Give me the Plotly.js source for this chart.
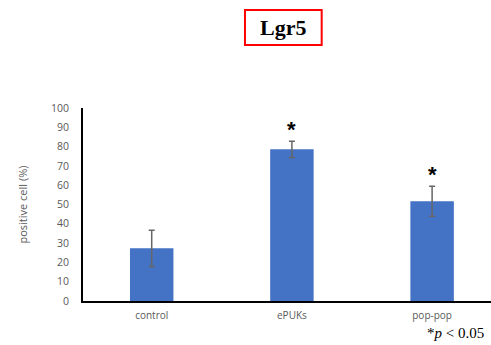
<!DOCTYPE html>
<html>
<head>
<meta charset="utf-8">
<script src="https://cdn.plot.ly/plotly-3.0.1.min.js"></script>
<style>html,body{margin:0;padding:0;background:#fff;}#chart{width:491px;height:345px;}</style>
</head>
<body>
<div id="chart"></div>
<script>
var categories = ["control", "ePUKs", "pop-pop"];
var values = [27.3, 78.6, 51.7];
var errors = [9.4, 4.2, 7.8];
var significant = [false, true, true];
var yTicks = [0, 10, 20, 30, 40, 50, 60, 70, 80, 90, 100];

var trace = {
  type: "bar",
  x: categories,
  y: values,
  width: 0.31,
  marker: {color: "#4472C4", line: {width: 0}},
  error_y: {type: "data", array: errors, visible: true, color: "#666666", thickness: 1.5, width: 3},
  hoverinfo: "none"
};

var annotations = [];
categories.forEach(function (c, i) {
  if (significant[i]) {
    annotations.push({
      x: c, y: values[i] + errors[i], xref: "x", yref: "y",
      text: "<b>*</b>", showarrow: false, yanchor: "bottom", yshift: -3,
      font: {family: "Liberation Sans, Arial, sans-serif", size: 22, color: "#000"}
    });
  }
});
annotations.push({
  xref: "paper", yref: "paper", x: 0.49, y: 1.417,
  text: "<b>Lgr5</b>", showarrow: false, xanchor: "center", yanchor: "middle",
  font: {family: "Liberation Serif, Times New Roman, serif", size: 22, color: "#000"}
});
annotations.push({
  xref: "paper", yref: "paper", x: 0.987, y: -0.165,
  text: "*<i>p</i> < 0.05", showarrow: false, xanchor: "right", yanchor: "middle",
  font: {family: "Liberation Serif, Times New Roman, serif", size: 15, color: "#000"}
});

var layout = {
  width: 491, height: 345,
  margin: {l: 83, r: 0, t: 108, b: 44},
  paper_bgcolor: "#fff", plot_bgcolor: "#fff",
  showlegend: false,
  xaxis: {
    range: [-0.49, 2.42], showline: true, linecolor: "#000", linewidth: 2,
    ticks: "", showgrid: false, zeroline: false, ticklabelstandoff: 4,
    tickfont: {family: "Open Sans, Liberation Sans, sans-serif", size: 10, color: "#595959"},
    fixedrange: true
  },
  yaxis: {
    range: [0, 100], tickvals: yTicks, showline: true, linecolor: "#000", linewidth: 2,
    ticks: "", showgrid: false, zeroline: false, ticklabelstandoff: 10,
    tickfont: {family: "Open Sans, Liberation Sans, sans-serif", size: 10.5, color: "#595959"},
    title: {text: "positive cell (%)", standoff: 21, font: {family: "Open Sans, Liberation Sans, sans-serif", size: 11, color: "#595959"}},
    fixedrange: true
  },
  shapes: [{
    type: "rect", xref: "paper", yref: "paper",
    x0: 0.397, x1: 0.585, y0: 1.326, y1: 1.508,
    line: {color: "#ff0000", width: 2}, fillcolor: "rgba(0,0,0,0)"
  }],
  annotations: annotations
};

Plotly.newPlot("chart", [trace], layout, {staticPlot: true, displayModeBar: false});
</script>
</body>
</html>
